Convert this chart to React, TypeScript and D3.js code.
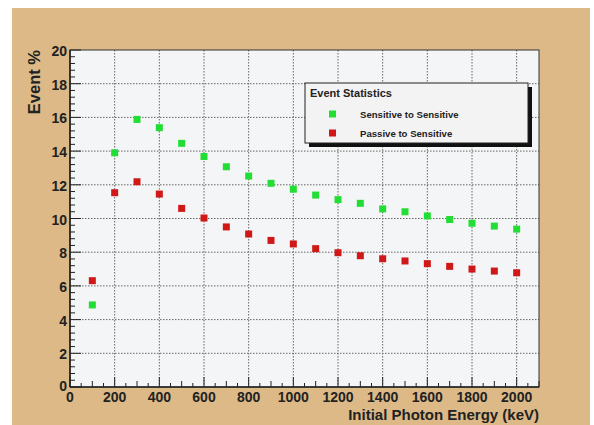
import { useEffect, useRef } from 'react';
import * as d3 from 'd3';

const energies = [100, 200, 300, 400, 500, 600, 700, 800, 900, 1000, 1100, 1200, 1300, 1400, 1500, 1600, 1700, 1800, 1900, 2000];
const sensitiveToSensitive = [4.87, 13.9, 15.88, 15.39, 14.46, 13.68, 13.07, 12.52, 12.09, 11.74, 11.39, 11.12, 10.9, 10.57, 10.4, 10.15, 9.94, 9.72, 9.55, 9.37];
const passiveToSensitive = [6.31, 11.53, 12.18, 11.45, 10.6, 10.03, 9.5, 9.08, 8.7, 8.49, 8.21, 7.97, 7.79, 7.61, 7.48, 7.32, 7.16, 7.0, 6.88, 6.78];
const xTicks = [0, 200, 400, 600, 800, 1000, 1200, 1400, 1600, 1800, 2000];
const yTicks = [0, 2, 4, 6, 8, 10, 12, 14, 16, 18, 20];
const seriesNames = ['Sensitive to Sensitive', 'Passive to Sensitive'];
const seriesColors = ['#22dd33', '#d01818'];

const W = 594;
const H = 425;

export default function App() {
  const ref = useRef<SVGSVGElement>(null);

  useEffect(() => {
    if (!ref.current) return;
    const svg = d3.select(ref.current);
    svg.selectAll('*').remove();

    const font = "'Liberation Sans', Arial, sans-serif";
    const m = { left: 70, top: 50, right: 539, bottom: 387 };

    // beige canvas
    svg.append('rect').attr('width', W).attr('height', H).attr('fill', '#fff');
    svg.append('rect').attr('x', 12).attr('y', 8).attr('width', 578).attr('height', H - 8).attr('fill', '#dcb987');

    const x = d3.scaleLinear().domain([0, 2100]).range([m.left, m.right]);
    const y = d3.scaleLinear().domain([0, 20]).range([m.bottom, m.top]);

    svg.append('rect')
      .attr('x', m.left).attr('y', m.top)
      .attr('width', m.right - m.left).attr('height', m.bottom - m.top)
      .attr('fill', '#f4f5f6');

    // dotted grid
    const grid = svg.append('g').attr('stroke', '#666').attr('stroke-width', 1).attr('stroke-dasharray', '1.5,1.5');
    xTicks.filter((t) => t > 0).forEach((t) => {
      grid.append('line').attr('x1', x(t)).attr('x2', x(t)).attr('y1', m.top).attr('y2', m.bottom);
    });
    yTicks.filter((t) => t > 0 && t < 20).forEach((t) => {
      grid.append('line').attr('x1', m.left).attr('x2', m.right).attr('y1', y(t)).attr('y2', y(t));
    });

    // frame
    svg.append('rect')
      .attr('x', m.left).attr('y', m.top)
      .attr('width', m.right - m.left).attr('height', m.bottom - m.top)
      .attr('fill', 'none').attr('stroke', '#333').attr('stroke-width', 1);
    svg.append('line').attr('x1', m.left).attr('x2', m.left).attr('y1', m.top).attr('y2', m.bottom)
      .attr('stroke', '#222').attr('stroke-width', 1.6);
    svg.append('line').attr('x1', m.left).attr('x2', m.right).attr('y1', m.bottom).attr('y2', m.bottom)
      .attr('stroke', '#222').attr('stroke-width', 1.6);

    // ticks (inside, ROOT style)
    const ticks = svg.append('g').attr('stroke', '#222').attr('stroke-width', 1);
    d3.range(0, 2101, 50).forEach((t) => {
      const len = t % 200 === 0 ? 10 : t % 100 === 0 ? 6 : 4;
      ticks.append('line').attr('x1', x(t)).attr('x2', x(t)).attr('y1', m.bottom).attr('y2', m.bottom - len);
    });
    d3.range(0, 20.01, 0.4).forEach((t) => {
      const major = Math.abs(t / 2 - Math.round(t / 2)) < 1e-6;
      ticks.append('line').attr('x1', m.left).attr('x2', m.left + (major ? 11 : 5)).attr('y1', y(t)).attr('y2', y(t));
    });

    // tick labels
    const lab = svg.append('g').attr('font-family', font).attr('font-weight', 'bold').attr('font-size', 14).attr('fill', '#222');
    xTicks.forEach((t) => {
      lab.append('text').attr('x', x(t)).attr('y', 402)
        .attr('text-anchor', 'middle').text(String(t));
    });
    yTicks.forEach((t) => {
      lab.append('text').attr('x', 67).attr('y', t === 0 ? y(t) + 4 : y(t) + 6)
        .attr('text-anchor', 'end').text(String(t));
    });

    // axis titles
    svg.append('text')
      .attr('transform', `translate(40,${m.top}) rotate(-90)`)
      .attr('text-anchor', 'end')
      .attr('font-family', font).attr('font-weight', 'bold').attr('font-size', 16.5).attr('fill', '#222')
      .text('Event %');
    svg.append('text')
      .attr('x', m.right).attr('y', 420)
      .attr('text-anchor', 'end')
      .attr('font-family', font).attr('font-weight', 'bold').attr('font-size', 15).attr('fill', '#222')
      .text('Initial Photon Energy (keV)');

    // markers
    const series = [sensitiveToSensitive, passiveToSensitive];
    series.forEach((vals, i) => {
      svg.append('g').selectAll('rect').data(vals).enter().append('rect')
        .attr('x', (_, j) => x(energies[j]) - 3.5)
        .attr('y', (d) => y(d) - 3.5)
        .attr('width', 7).attr('height', 7)
        .attr('fill', seriesColors[i]);
    });

    // legend with shadow
    const lg = { x: 305, y: 83, w: 223, h: 60 };
    svg.append('rect').attr('x', lg.x + 4).attr('y', lg.y + 4).attr('width', lg.w).attr('height', lg.h).attr('fill', '#111');
    svg.append('rect').attr('x', lg.x).attr('y', lg.y).attr('width', lg.w).attr('height', lg.h)
      .attr('fill', '#f3f3f3').attr('stroke', '#222').attr('stroke-width', 1);
    svg.append('text').attr('x', lg.x + 5).attr('y', lg.y + 14)
      .attr('font-family', font).attr('font-weight', 'bold').attr('font-size', 11).attr('fill', '#222')
      .text('Event Statistics');
    seriesNames.forEach((name, i) => {
      const cy = lg.y + 31 + i * 19;
      svg.append('rect').attr('x', 329).attr('y', cy - 3.5).attr('width', 7).attr('height', 7).attr('fill', seriesColors[i]);
      svg.append('text').attr('x', 360).attr('y', cy + 4)
        .attr('font-family', font).attr('font-weight', 'bold').attr('font-size', 9.6).attr('fill', '#222')
        .text(name);
    });
  }, []);

  return <svg ref={ref} width={W} height={H} style={{ display: 'block', position: 'absolute', left: 0, top: 0 }} />;
}
